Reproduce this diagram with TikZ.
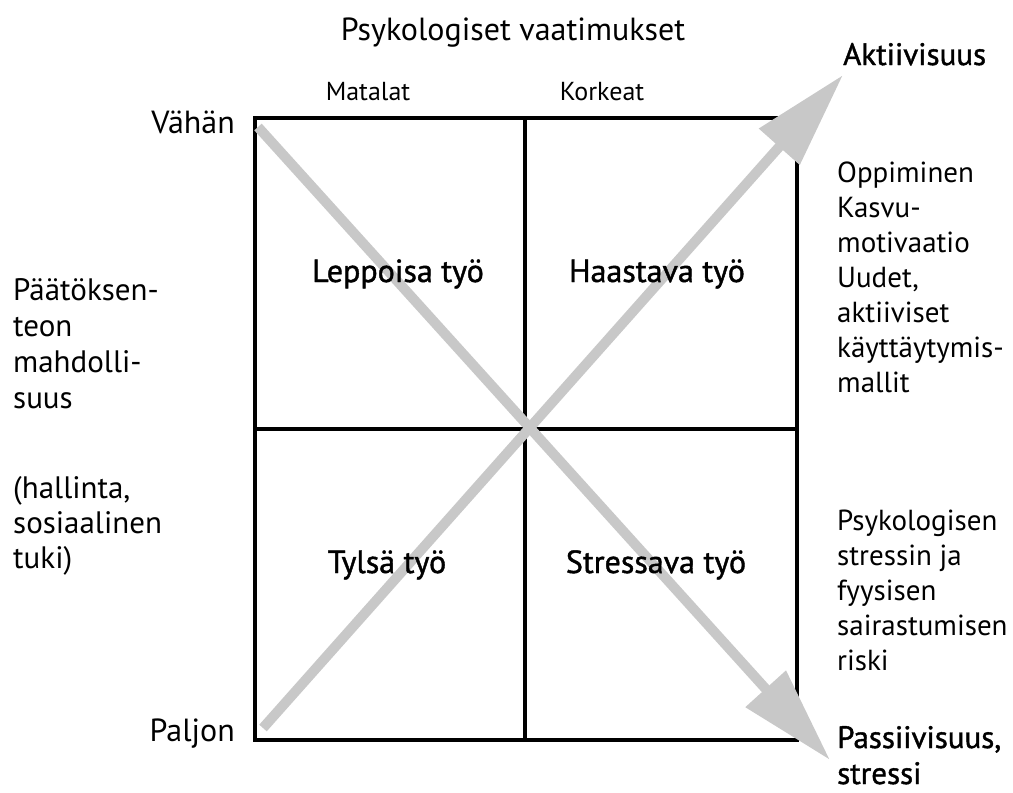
\documentclass[tikz,border=0pt]{standalone}
\usepackage{fontspec}
\setmainfont{PT Sans}
\newfontfamily\medfont[FakeBold=1.3]{PT Sans}
\usetikzlibrary{arrows.meta}
\definecolor{arrowgrey}{RGB}{200,200,200}
\tikzset{
  gridline/.style={line width=4pt, black},
  bigarrow/.style={line width=10pt, arrowgrey, -{Triangle[length=96pt,width=52pt]}},
  lbl/.style={font=\fontsize{32}{35}\selectfont, inner sep=0pt, anchor=base},
  small/.style={font=\fontsize{26}{30}\selectfont, inner sep=0pt, anchor=base},
  quad/.style={font=\fontsize{32}{37}\medfont, inner sep=0pt, anchor=base},
  blockl/.style={font=\fontsize{31}{35}\selectfont, inner sep=0pt, align=left, anchor=base west},
  blockr/.style={font=\fontsize{29}{35}\selectfont, inner sep=0pt, align=left, anchor=base west},
}
\begin{document}
\begin{tikzpicture}[x=1pt,y=-1pt]
\useasboundingbox (0,0) rectangle (1013,793);
% grid
\coordinate (tl) at (255,118);
\coordinate (br) at (797,740);
\coordinate (tm) at (525,118);
\coordinate (bm) at (525,740);
\coordinate (lm) at (255,429);
\coordinate (rm) at (797,429);
\draw[gridline] (tl) rectangle (br);
\draw[gridline] (tm) -- (bm);
\draw[gridline] (lm) -- (rm);
% arrows
\coordinate (a1s) at (263,728);
\coordinate (a1e) at (843,75);
\coordinate (a2s) at (258,127);
\coordinate (a2e) at (830,760);
\draw[bigarrow] (a1s) -- (a1e);
\draw[bigarrow] (a2s) -- (a2e);
% labels
\node[lbl] (title) at (513,40) {Psykologiset vaatimukset};
\node[small] (mat) at (368,100) {Matalat};
\node[small] (kor) at (602,100) {Korkeat};
\node[lbl, anchor=base east] (vah) at (235,133) {Vähän};
\node[lbl, anchor=base east] (pal) at (235,741) {Paljon};
\node[quad] (lep) at (398,282) {Leppoisa työ};
\node[quad] (haa) at (657,282) {Haastava työ};
\node[quad] (tyl) at (387,573) {Tylsä työ};
\node[quad] (str) at (656,573) {Stressava työ};
\node[quad, font=\fontsize{31}{37}\medfont, anchor=base west] (akt) at (843,65) {Aktiivisuus};
\node[quad, font=\fontsize{31}{36}\medfont, anchor=base west, align=left] (pas) at (837,784) {Passiivisuus,\\stressi};
\node[blockl, font=\fontsize{31}{36}\selectfont] (left1) at (13,408) {Päätöksen-\\teon\\mahdolli-\\suus};
\node[blockl] (left2) at (13,568) {(hallinta,\\sosiaalinen\\tuki)};
\node[blockr] (right1) at (837,392) {Oppiminen\\Kasvu-\\motivaatio\\Uudet,\\aktiiviset\\käyttäytymis-\\mallit};
\node[blockr] (right2) at (837,670) {Psykologisen\\stressin ja\\fyysisen\\sairastumisen\\riski};
\end{tikzpicture}
\end{document}
